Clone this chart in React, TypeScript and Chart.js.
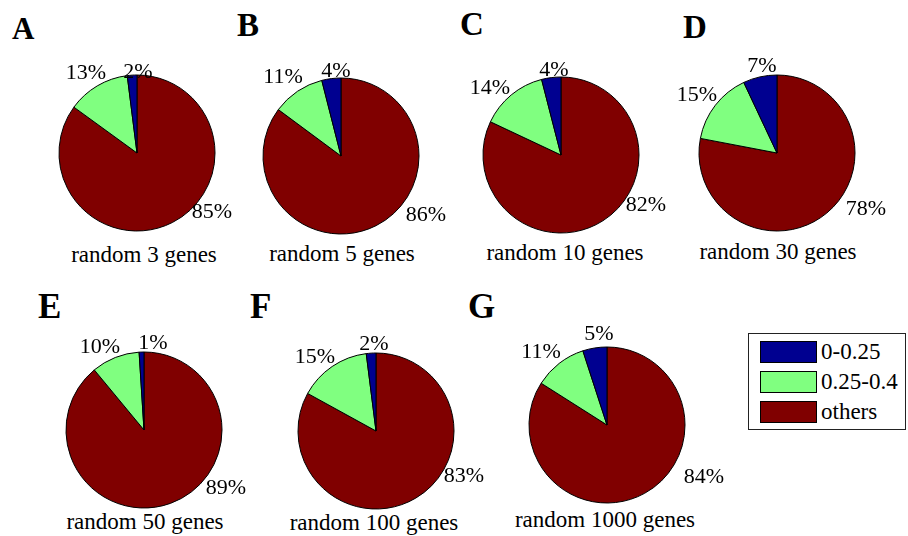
import React, { useEffect, useRef } from "react";
import { Chart, registerables } from "chart.js";

Chart.register(...registerables);

// ---- data ----
const CATEGORIES = ["0-0.25", "0.25-0.4", "others"];
const PANEL_LETTERS = ["A", "B", "C", "D", "E", "F", "G"];
const PANEL_CAPTIONS = [
  "random 3 genes",
  "random 5 genes",
  "random 10 genes",
  "random 30 genes",
  "random 50 genes",
  "random 100 genes",
  "random 1000 genes",
];
const LOW_PCT = [2, 4, 4, 7, 1, 2, 5]; // 0-0.25
const MID_PCT = [13, 11, 14, 15, 10, 15, 11]; // 0.25-0.4
const OTHERS_PCT = [85, 86, 82, 78, 89, 83, 84]; // others

// ---- styles / layout ----
const COLORS = ["#000090", "#80FF80", "#800000"]; // low, mid, others
const SERIF =
  '"Liberation Serif", "Times New Roman", Times, "DejaVu Serif", "Nimbus Roman", "Noto Serif", serif';
const RADIUS = 78;
const CANVAS = 260;
// pie centres (layout)
const PANEL_POS: [number, number][] = [
  [137, 153],
  [341, 156],
  [561, 155],
  [777, 153],
  [144, 430],
  [376, 431],
  [607, 425],
];
// percentage label offsets from pie centre: [others, mid, low]
const LABEL_OFF: [number, number][][] = [
  [[75, 59], [-51, -80], [1, -81]],
  [[85, 59], [-58, -79], [-5, -85]],
  [[85, 50], [-71, -67], [-7, -85]],
  [[89, 56], [-80, -58], [-15, -87]],
  [[82, 58], [-44, -83], [9, -87]],
  [[88, 45], [-61, -74], [-2, -87]],
  [[97, 52], [-66, -73], [-8, -91]],
];
// letter positions: [left, capTop, size]
const LETTER_POS: [number, number, number][] = [
  [12, 18, 31],
  [237, 15, 33],
  [460, 14, 33],
  [683, 17, 33],
  [38, 295, 35],
  [250, 295, 35],
  [468, 295, 35],
];
// caption positions: [centerX, baseline]
const CAPTION_POS: [number, number][] = [
  [144, 262],
  [342, 261],
  [565, 260],
  [778, 259],
  [145, 529],
  [374, 530],
  [605, 527],
];

const pctLabelPlugin = {
  id: "pctLabels",
  afterDatasetsDraw(chart: any, _args: any, opts: any) {
    const meta = chart.getDatasetMeta(0);
    const ds = chart.data.datasets[0];
    const ctx = chart.ctx;
    ctx.save();
    ctx.font = `${opts.size}px ${SERIF}`;
    ctx.fillStyle = "#000";
    ctx.textAlign = "center";
    ctx.textBaseline = "middle";
    meta.data.forEach((arc: any, i: number) => {
      const off = opts.offsets[i];
      ctx.fillText(`${ds.data[i]}%`, arc.x + off[0], arc.y + off[1]);
    });
    ctx.restore();
  },
};

function Pie({ index }: { index: number }) {
  const ref = useRef<HTMLCanvasElement>(null);
  useEffect(() => {
    if (!ref.current) return;
    const chart = new Chart(ref.current, {
      type: "pie",
      data: {
        labels: [CATEGORIES[2], CATEGORIES[1], CATEGORIES[0]],
        datasets: [
          {
            data: [OTHERS_PCT[index], MID_PCT[index], LOW_PCT[index]],
            backgroundColor: [COLORS[2], COLORS[1], COLORS[0]],
            borderColor: "#000",
            borderWidth: 1,
            radius: RADIUS,
          } as any,
        ],
      },
      options: {
        responsive: false,
        animation: false,
        events: [],
        layout: { padding: 0 },
        plugins: {
          legend: { display: false },
          tooltip: { enabled: false },
          pctLabels: { offsets: LABEL_OFF[index], size: 22 },
        } as any,
      },
      plugins: [pctLabelPlugin as any],
    });
    return () => chart.destroy();
  }, [index]);
  const [cx, cy] = PANEL_POS[index];
  return (
    <canvas
      ref={ref}
      width={CANVAS}
      height={CANVAS}
      style={{
        position: "absolute",
        left: cx - CANVAS / 2,
        top: cy - CANVAS / 2,
        width: CANVAS,
        height: CANVAS,
      }}
    />
  );
}

export default function App() {
  const capSize = 23;
  const legSize = 23;
  return (
    <div
      style={{
        position: "absolute",
        left: 0,
        top: 0,
        width: 908,
        height: 536,
        background: "#fff",
        overflow: "hidden",
        fontFamily: SERIF,
        color: "#000",
      }}
    >
      {PANEL_LETTERS.map((l, i) => {
        const [x, capTop, s] = LETTER_POS[i];
        return (
          <div
            key={"l" + i}
            style={{
              position: "absolute",
              left: x,
              top: capTop - 0.1755 * s,
              fontSize: s,
              lineHeight: `${s}px`,
              fontWeight: "bold",
              whiteSpace: "nowrap",
            }}
          >
            {l}
          </div>
        );
      })}
      {PANEL_CAPTIONS.map((c, i) => {
        const [cx, base] = CAPTION_POS[i];
        return (
          <div
            key={"c" + i}
            style={{
              position: "absolute",
              left: cx - 150,
              width: 300,
              textAlign: "center",
              top: base - 0.8375 * capSize,
              fontSize: capSize,
              lineHeight: `${capSize}px`,
              whiteSpace: "nowrap",
            }}
          >
            {c}
          </div>
        );
      })}
      {PANEL_LETTERS.map((_, i) => (
        <Pie key={"p" + i} index={i} />
      ))}
      <div
        style={{
          position: "absolute",
          left: 748,
          top: 333,
          width: 156,
          height: 95,
          border: "1px solid #222",
        }}
      />
      {CATEGORIES.map((c, i) => (
        <React.Fragment key={"g" + i}>
          <div
            style={{
              position: "absolute",
              left: 760,
              top: 341 + i * 30,
              width: 55,
              height: 20,
              background: COLORS[i],
              border: "1px solid #000",
            }}
          />
          <div
            style={{
              position: "absolute",
              left: 821,
              top: 341 + i * 30,
              fontSize: legSize,
              lineHeight: "22px",
              whiteSpace: "nowrap",
            }}
          >
            {c}
          </div>
        </React.Fragment>
      ))}
    </div>
  );
}
